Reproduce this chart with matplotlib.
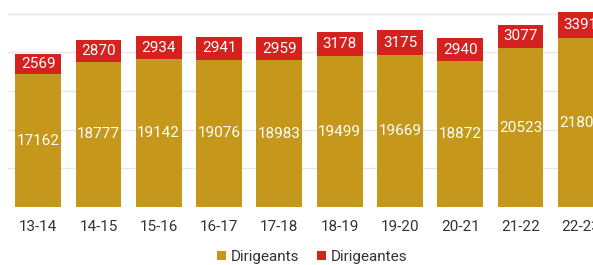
import matplotlib.pyplot as plt

seasons = ['13-14', '14-15', '15-16', '16-17', '17-18', '18-19', '19-20', '20-21', '21-22', '22-23']
dirigeants = [17162, 18777, 19142, 19076, 18983, 19499, 19669, 18872, 20523, 21806]
dirigeantes = [2569, 2870, 2934, 2941, 2959, 3178, 3175, 2940, 3077, 3391]

gold = '#C5981C'
red = '#D5221E'

plt.rcParams['font.family'] = ['Roboto', 'DejaVu Sans']

W, H = 593, 265
fig = plt.figure(figsize=(W / 100, H / 100), dpi=100)
# axes runs past the right edge: the last bar is cut off in the reference
left, right, bottom, top = 8, 611, H - 207, H - 6
ax = fig.add_axes([left / W, bottom / H, (right - left) / W, (top - bottom) / H])

x = range(len(seasons))
b1 = ax.bar(x, dirigeants, width=0.76, color=gold, label='Dirigeants', zorder=2)
b2 = ax.bar(x, dirigeantes, width=0.76, bottom=dirigeants, color=red, label='Dirigeantes', zorder=2)
ax.bar_label(b1, label_type='center', color='white', fontsize=11)
ax.bar_label(b2, label_type='center', color='white', fontsize=11)

ax.set_xlim(-0.5, 9.5)
ax.set_ylim(0, 26000)
ax.set_yticks([0, 5000, 10000, 15000, 20000, 25000])
ax.yaxis.grid(True, color='#E6E6E6', linewidth=1, zorder=0)
ax.tick_params(axis='y', left=False, labelleft=False)
ax.tick_params(axis='x', bottom=False, labelsize=11, colors='#333333', pad=6)
ax.set_xticks(list(x))
ax.set_xticklabels(seasons)
for s in ax.spines.values():
    s.set_visible(False)

fig.legend(handles=[b1, b2], loc='center', bbox_to_anchor=(312 / W, 1 - 257 / H),
           ncol=2, frameon=False, fontsize=11, handlelength=0.6, handleheight=0.6,
           handletextpad=0.3, columnspacing=1.2, labelcolor='#333333')

fig.savefig('out.png', dpi=100)
